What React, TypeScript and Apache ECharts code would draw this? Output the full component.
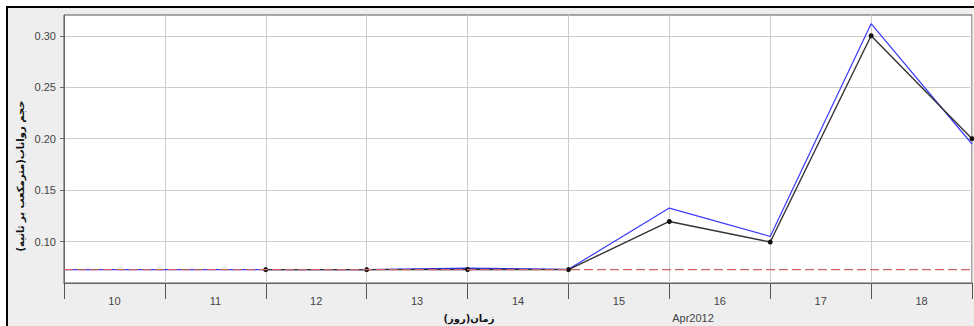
import React, { useEffect, useRef } from "react";
import * as echarts from "echarts";

const dayLabels = ["10", "11", "12", "13", "14", "15", "16", "17", "18"];
const axisStart = "2012-04-10";
const axisEnd = "2012-04-19";

const blueDates = [
  "2012-04-10", "2012-04-11", "2012-04-12", "2012-04-13", "2012-04-14",
  "2012-04-15", "2012-04-16", "2012-04-17", "2012-04-18", "2012-04-19",
];
const blueValues = [0.0727, 0.0727, 0.0727, 0.0727, 0.0742, 0.073, 0.1325, 0.1049, 0.3118, 0.1948];

const blackDates = [
  "2012-04-12", "2012-04-13", "2012-04-14", "2012-04-15",
  "2012-04-16", "2012-04-17", "2012-04-18", "2012-04-19",
];
const blackValues = [0.0727, 0.0727, 0.0728, 0.0727, 0.1195, 0.0995, 0.3, 0.2];

const thresholdValue = 0.0727;
const yMin = 0.0597;
const yMax = 0.3202;
const yTickValues = [0.1, 0.15, 0.2, 0.25, 0.3];

const yName = "حجم رواناب(مترمکعب بر ثانیه)";
const xName = "زمان(روز)";
const monthLabel = "Apr2012";

const LABEL_FONT = "'Liberation Sans', Arial, 'DejaVu Sans', sans-serif";

export default function App() {
  const ref = useRef<HTMLDivElement>(null);

  useEffect(() => {
    if (!ref.current) return;
    const chart = echarts.init(ref.current, null, { renderer: "svg" });
    const pair = (d: string[], v: number[]) => d.map((x, i) => [x, v[i]]);

    chart.setOption({
      animation: false,
      backgroundColor: "transparent",
      textStyle: { fontFamily: LABEL_FONT },
      graphic: [
        {
          type: "rect",
          z: -10,
          silent: true,
          shape: { x: 7, y: 7, width: 1000, height: 400 },
          style: { fill: "#eeeeee", stroke: "#000000", lineWidth: 2 },
        },
        {
          type: "text",
          x: 20,
          y: 176,
          rotation: Math.PI / 2,
          style: {
            text: yName,
            fill: "#111111",
            font: "bold 10px 'DejaVu Sans', sans-serif",
            textAlign: "center",
            textVerticalAlign: "middle",
          },
        },
        {
          type: "text",
          x: 469,
          y: 318,
          style: {
            text: xName,
            fill: "#111111",
            font: "bold 10px 'DejaVu Sans', sans-serif",
            textAlign: "center",
            textVerticalAlign: "middle",
          },
        },
        {
          type: "text",
          x: 693,
          y: 318,
          style: {
            text: monthLabel,
            fill: "#444444",
            font: "11px " + LABEL_FONT,
            textAlign: "center",
            textVerticalAlign: "middle",
          },
        },
      ],
      grid: {
        left: 64,
        right: 2,
        top: 15,
        bottom: 43,
        show: true,
        backgroundColor: "#ffffff",
        borderColor: "#555555",
        borderWidth: 1,
      },
      xAxis: [
        {
          type: "category",
          data: dayLabels,
          boundaryGap: true,
          axisLine: { show: true, lineStyle: { color: "#666666", width: 1 } },
          axisTick: { show: true, length: 16, lineStyle: { color: "#555555", width: 1 } },
          axisLabel: { color: "#444444", fontSize: 11, margin: 12, fontFamily: LABEL_FONT },
          splitLine: { show: true, lineStyle: { color: "#cccccc", width: 1 } },
        },
        {
          type: "time",
          show: false,
          min: axisStart,
          max: axisEnd,
          splitLine: { show: false },
        },
      ],
      yAxis: {
        type: "value",
        min: yMin,
        max: yMax,
        axisLine: { show: true, lineStyle: { color: "#666666", width: 1 } },
        axisTick: {
          show: true,
          length: 4,
          customValues: yTickValues,
          lineStyle: { color: "#666666" },
        },
        axisLabel: {
          color: "#444444",
          fontSize: 11,
          margin: 8,
          fontFamily: LABEL_FONT,
          customValues: yTickValues,
          formatter: (v: number) => v.toFixed(2),
        },
        splitLine: { show: true, lineStyle: { color: "#cccccc", width: 1 } },
      },
      series: [
        {
          type: "line",
          xAxisIndex: 1,
          data: pair(blueDates, blueValues),
          showSymbol: false,
          symbol: "none",
          lineStyle: { color: "#3a3aff", width: 1.2 },
          z: 2,
        },
        {
          type: "line",
          xAxisIndex: 1,
          data: pair(blackDates, blackValues),
          symbol: "circle",
          symbolSize: 5,
          itemStyle: { color: "#111111" },
          lineStyle: { color: "#333333", width: 1.4 },
          z: 3,
        },
        {
          type: "line",
          xAxisIndex: 1,
          data: [
            [axisStart, thresholdValue],
            [axisEnd, thresholdValue],
          ],
          symbol: "none",
          lineStyle: { color: "#cc6666", width: 1.3, type: [9, 4] },
          z: 4,
        },
      ],
    });

    return () => chart.dispose();
  }, []);

  return (
    <div
      style={{ position: "absolute", left: 0, top: 0, width: 974, height: 326, background: "#ffffff" }}
    >
      <div ref={ref} style={{ width: 974, height: 326 }} />
    </div>
  );
}
